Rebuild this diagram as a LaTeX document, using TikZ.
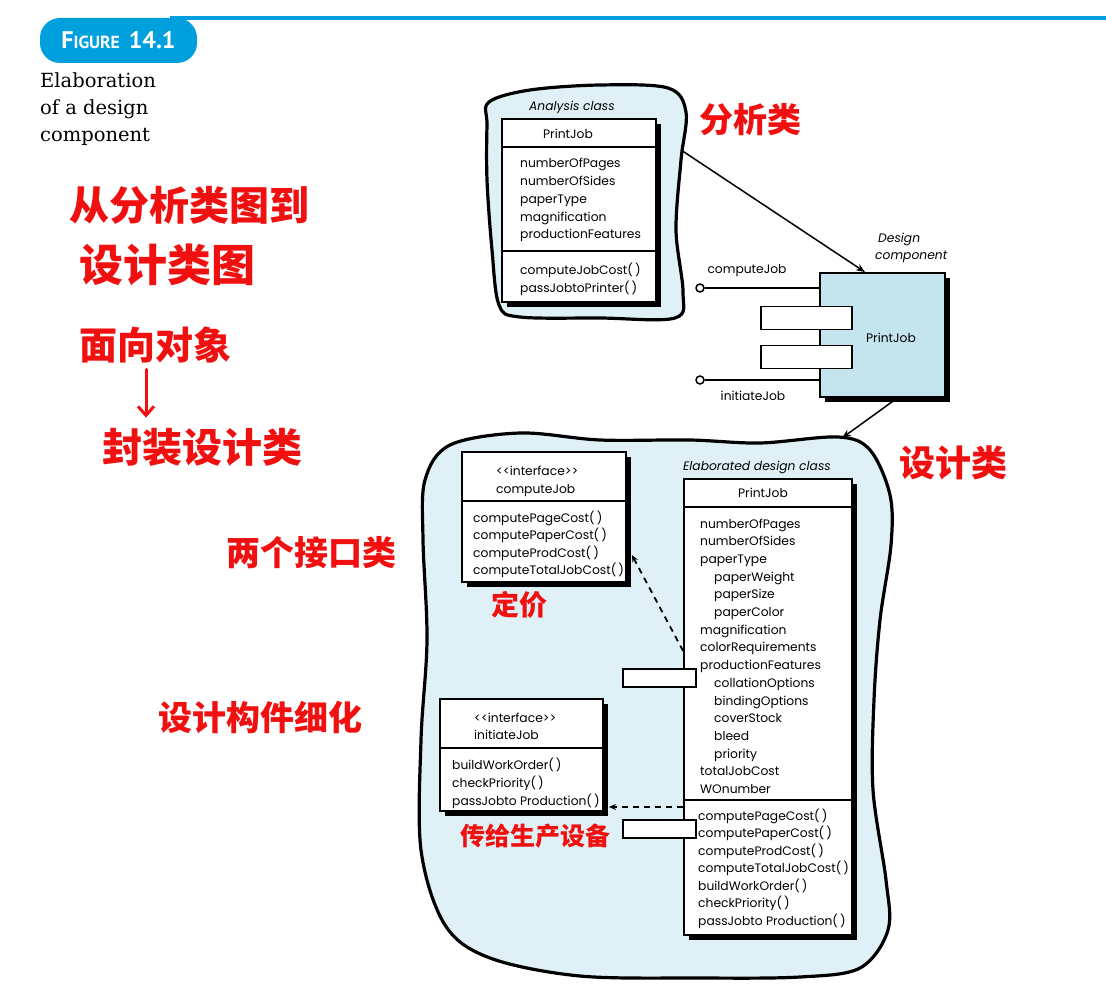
\documentclass[tikz,border=0pt]{standalone}
\usepackage{fontspec}
\setmainfont{Poppins}
\newfontfamily\cjk{Noto Sans CJK SC}
\newfontfamily\tabfont{PT Sans}
\newfontfamily\capfont{DejaVu Serif}
\usetikzlibrary{positioning,shadows,arrows.meta}

\definecolor{figblue}{RGB}{0,160,222}
\definecolor{blobblue}{RGB}{223,241,247}
\definecolor{compblue}{RGB}{196,228,238}
\definecolor{inkred}{RGB}{240,16,16}

\newcommand\diagfont{\fontsize{12.3}{14}\selectfont}
\newcommand\handfont[1]{\cjk\bfseries\fontsize{#1}{#1}\selectfont}

\tikzset{
  blob/.style={draw=black, line width=3.2pt, fill=blobblue},
  shadowed/.style={drop shadow={shadow xshift=5pt, shadow yshift=-5pt, fill=black, opacity=1}},
  classbox/.style={draw=black, line width=1.8pt, fill=white, shadowed},
  compbox/.style={draw=black, line width=1.8pt, fill=compblue, shadowed},
  portbox/.style={draw=black, line width=1.8pt, fill=white},
  divider/.style={line width=1.4pt},
  lolly/.style={circle, draw=black, line width=1.5pt, fill=white, minimum size=8pt},
  flow/.style={line width=1.5pt, -{Stealth[length=9pt,width=7pt]}},
  realize/.style={line width=1.8pt, dash pattern=on 6pt off 5pt, -{Stealth[length=7pt,width=6pt]}},
  italiclbl/.style={font=\diagfont\itshape},
  hand/.style={text=inkred},
  handarrow/.style={inkred, line width=3pt, line cap=round, -{Straight Barb[length=9pt,width=16pt]}},
}

\begin{document}
\begin{tikzpicture}[x=1pt, y=-1pt, every node/.style={inner sep=0pt, font=\diagfont}]
\useasboundingbox (0,0) rectangle (1106,1000);

% heading
\draw[figblue, line width=4pt] (170,18) -- (1106,18);
\node[fill=figblue, rounded corners=20pt, minimum width=157pt, minimum height=45pt, text=white, font=\tabfont\bfseries] (fig) at (118.5,40.5)
  {\fontsize{24}{24}\selectfont F\fontsize{17.5}{17.5}\selectfont IGURE\hspace{9pt}\fontsize{24}{24}\selectfont 14.1};
\foreach \t [count=\i] in {Elaboration, of a design, component}
  \node[anchor=base west, font=\capfont\fontsize{19.5}{19.5}\selectfont] (cap\i) at (40, 61+27*\i) {\t};

% analysis class
\draw[blob] plot[smooth cycle, tension=0.55] coordinates {(489,102) (530,90) (600,85) (668,88) (686,112) (681,160) (676,230) (683,292) (675,318) (600,318) (520,317) (499,305) (492,250) (487,180) (487,125)};
\coordinate (ablobE) at (681,150);
\node[classbox, minimum width=154pt, minimum height=183pt] (an) at (579,210.5) {};
\draw[divider] (an.west |- 0,147) -- (an.east |- 0,147);
\draw[divider] (an.west |- 0,251) -- (an.east |- 0,251);
\node[italiclbl] (anlbl) at (572,107) {Analysis class};
\node[anchor=base] (anname) at (568,139) {PrintJob};
\foreach \t [count=\i] in {numberOfPages, numberOfSides, paperType, magnification, productionFeatures}
  \node[anchor=base west] (anattr\i) at (520, 150.3+17.7*\i) {\t};
\foreach \t [count=\i] in {computeJobCost(\,), passJobtoPrinter(\,)}
  \node[anchor=base west] (anop\i) at (520, 257+18*\i) {\t};

% design component
\node[compbox, minimum width=125pt, minimum height=124pt] (comp) at (882.5,335) {};
\node (compname) at (891,338) {PrintJob};
\node[italiclbl, anchor=base west] (dc1) at (878,243) {Design};
\node[italiclbl, anchor=base west] (dc2) at (875,260) {component};
\node[portbox, minimum width=91pt, minimum height=23pt] (cport1) at (806.5,318) {};
\node[portbox, minimum width=91pt, minimum height=23pt] (cport2) at (806.5,357) {};
\node[lolly] (cjdot) at (700,288) {};
\node[lolly] (ijdot) at (700,380) {};
\draw[line width=1.5pt] (cjdot) -- (cjdot -| comp.west);
\draw[line width=1.5pt] (ijdot) -- (ijdot -| comp.west);
\node (cjlbl) at (747,271) {computeJob};
\node (ijlbl) at (753,396) {initiateJob};
\draw[flow] (ablobE) -- ([xshift=-17.5pt]comp.north);

% elaborated design class
\draw[blob] plot[smooth cycle, tension=0.55] coordinates {(425,480) (450,445) (520,433) (600,440) (690,440) (760,443) (838,437) (870,450) (890,495) (891,545) (880,620) (874,700) (873,790) (886,880) (888,930) (860,968) (800,977) (700,978) (580,976) (490,958) (445,925) (421,850) (421,740) (427,640) (423,540)};
\coordinate (eblobN) at (842,438);
\draw[flow] ([xshift=15pt]comp.south) -- (eblobN);

\node[classbox, minimum width=164pt, minimum height=130pt] (ic1) at (544,517) {};
\draw[divider] (ic1.west |- 0,501) -- (ic1.east |- 0,501);
\node[anchor=base west] (ic1st) at (496,475) {<{}<interface>{}>};
\node[anchor=base west] (ic1name) at (496,493) {computeJob};
\foreach \t [count=\i] in {computePageCost(\,), computePaperCost(\,), computeProdCost(\,), computeTotalJobCost(\,)}
  \node[anchor=base west] (ic1op\i) at (473, 504.5+17.5*\i) {\t};

\node[classbox, minimum width=163pt, minimum height=112pt] (ic2) at (521.5,755) {};
\draw[divider] (ic2.west |- 0,748) -- (ic2.east |- 0,748);
\node[anchor=base west] (ic2st) at (474,722) {<{}<interface>{}>};
\node[anchor=base west] (ic2name) at (474,739) {initiateJob};
\foreach \t [count=\i] in {buildWorkOrder(\,), checkPriority(\,), passJobto Production(\,)}
  \node[anchor=base west] (ic2op\i) at (452, 752+17.7*\i) {\t};

\node[classbox, minimum width=168pt, minimum height=456pt] (ec) at (768,707) {};
\draw[divider] (ec.west |- 0,507) -- (ec.east |- 0,507);
\draw[divider] (ec.west |- 0,800) -- (ec.east |- 0,800);
\node[italiclbl] (eclbl) at (757,467) {Elaborated design class};
\node[anchor=base] (ecname) at (763,497) {PrintJob};
\foreach \t [count=\i] in {numberOfPages, numberOfSides, paperType, \hspace*{14pt}paperWeight, \hspace*{14pt}paperSize, \hspace*{14pt}paperColor, magnification, colorRequirements, productionFeatures, \hspace*{14pt}collationOptions, \hspace*{14pt}bindingOptions, \hspace*{14pt}coverStock, \hspace*{14pt}bleed, \hspace*{14pt}priority, totalJobCost, WOnumber}
  \node[anchor=base west] (ecattr\i) at (700, 510.3+17.7*\i) {\t};
\foreach \t [count=\i] in {computePageCost(\,), computePaperCost(\,), computeProdCost(\,), computeTotalJobCost(\,), buildWorkOrder(\,), checkPriority(\,), passJobto Production(\,)}
  \node[anchor=base west] (ecop\i) at (698, 802.5+17.5*\i) {\t};
\node[portbox, minimum width=73pt, minimum height=18pt] (eport1) at (659.5,678) {};
\node[portbox, minimum width=73pt, minimum height=18pt] (eport2) at (659.5,829) {};
\draw[realize] (ec.west |- 0,651) -- ([shift={(5,38)}]ic1.east);
\draw[realize] (ec.west |- 0,807) -- ([shift={(5,52)}]ic2.east);

% handwritten notes
\node[hand, font=\handfont{34}] (hAnalysis) at (750,120) {分析类};
\node[hand, font=\handfont{40}] (hFrom) at (189,205) {从分析类图到};
\node[hand, font=\handfont{44}] (hTo) at (167,265) {设计类图};
\node[hand, font=\handfont{38}] (hOO) at (155,345) {面向对象};
\node[hand, font=\handfont{40}] (hEnc) at (202,447) {封装设计类};
\node[hand, font=\handfont{36}] (hDesign) at (953,463) {设计类};
\node[hand, font=\handfont{34}] (hTwo) at (311,553) {两个接口类};
\node[hand, font=\handfont{28}] (hPrice) at (519,605) {定价};
\node[hand, font=\handfont{34}] (hRefine) at (260,718) {设计构件细化};
\node[hand, font=\handfont{25}] (hPass) at (535,836) {传给生产设备};
\draw[handarrow, shorten <=6pt, shorten >=10pt] (hOO.south -| 146,0) -- (hEnc.north -| 146,0);
\end{tikzpicture}
\end{document}
